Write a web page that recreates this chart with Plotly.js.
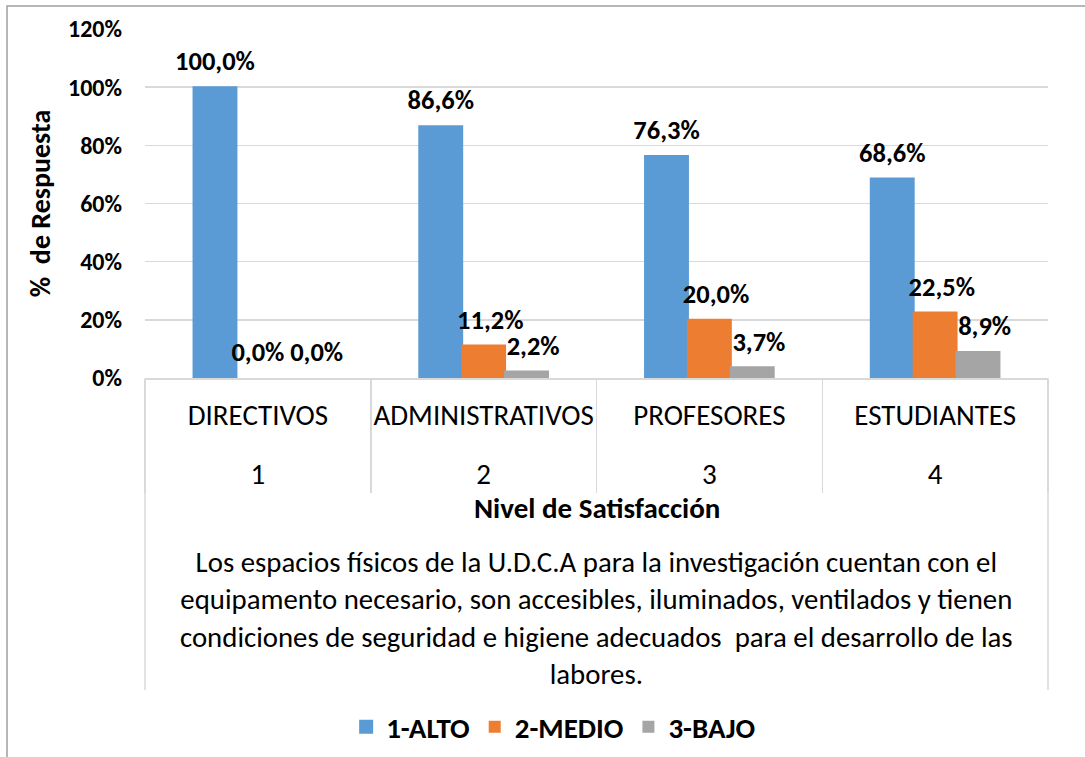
<!DOCTYPE html>
<html>
<head>
<meta charset="utf-8">
<script src="https://cdn.plot.ly/plotly-3.0.1.min.js"></script>
<style>html,body{margin:0;padding:0;background:#fff}#chart{width:1085px;height:757px}</style>
</head>
<body>
<div id="chart"></div>
<script>
var categories = ["DIRECTIVOS", "ADMINISTRATIVOS", "PROFESORES", "ESTUDIANTES"];
var levels = ["1", "2", "3", "4"];
var seriesNames = ["1-ALTO", "2-MEDIO", "3-BAJO"];
var alto = [100.0, 86.6, 76.3, 68.6];
var medio = [0.0, 11.2, 20.0, 22.5];
var bajo = [0.0, 2.2, 3.7, 8.9];
var yTicks = [0, 20, 40, 60, 80, 100, 120];
var xTitle = "Nivel de Satisfacción";
var yTitle = "%  de Respuesta";
var description = ["Los espacios físicos de la U.D.C.A para la investigación cuentan con el",
  "equipamento necesario, son accesibles, iluminados, ventilados y tienen",
  "condiciones de seguridad e higiene adecuados  para el desarrollo de las",
  "labores."];

var FONT = "Carlito, Calibri, Lato, sans-serif";
var colors = ["#5B9BD5", "#ED7D31", "#A5A5A5"];
var vals = [alto, medio, bajo];
// category labels shown with an extra small empty line so the level row sits lower
var catLabels = categories.map(function (c) { return c + "<br><span style='font-size:8px'> </span>"; });

// label template: big visible line + tiny empty line (adds a little gap above the bar)
function tpl(prefix) {
  return "<span style='font-size:26.5px'>" + prefix + "%{y:.1f}%</span><br> ";
}

var traces = vals.map(function (v, i) {
  var templates = v.map(function (val, j) {
    if (i === 0) return tpl("");
    if (i === 1 && val === 0) return tpl("");
    if (i === 2 && val === 0 && medio[j] === 0) return tpl("\u2003\u2009");
    return tpl("\u2002");
  });
  return {
    type: "bar",
    name: seriesNames[i],
    x: [levels, catLabels],
    y: v,
    marker: {color: colors[i], line: {color: colors[i], width: v.map(function (val) { return val > 0 ? 2 : 0; })}},
    texttemplate: templates,
    textposition: "outside",
    constraintext: "none",
    textfont: {family: FONT, size: 9, color: "#000", weight: "bold"},
    cliponaxis: false,
    hoverinfo: "skip"
  };
});

var layout = {
  width: 1085, height: 757,
  margin: {l: 145, r: 37, t: 29, b: 379, autoexpand: false},
  paper_bgcolor: "#fff", plot_bgcolor: "#fff",
  separators: ",.",
  barmode: "group",
  bargap: 0.43,
  bargroupgap: 0,
  font: {family: FONT, color: "#000"},
  showlegend: true,
  legend: {orientation: "h", x: 0.452, xanchor: "center", y: -1.0, yanchor: "middle",
    font: {family: FONT, size: 29, weight: "bold"}, traceorder: "normal"},
  xaxis: {
    type: "multicategory",
    showline: true, linecolor: "#D9D9D9", linewidth: 1.5,
    showdividers: true, dividercolor: "#D9D9D9", dividerwidth: 1.5,
    tickfont: {family: FONT, size: 29, color: "#000"},
    tickangle: 0, ticks: "",
    ticklabelstandoff: 11,
    automargin: false
  },
  yaxis: {
    range: [0, 120], tickvals: yTicks, ticktext: yTicks.map(function (t) { return t + "%"; }),
    showgrid: true, gridcolor: "#D9D9D9", gridwidth: 1.5,
    zeroline: false, showline: false, ticks: "",
    ticklabelstandoff: 22,
    tickfont: {family: FONT, size: 24, weight: "bold"},
    title: {text: yTitle, font: {family: FONT, size: 28, weight: "bold"}, standoff: 9},
    automargin: false
  },
  shapes: [
    {type: "rect", xref: "paper", yref: "paper", x0: -0.1528, x1: 1.0465, y0: -1.123, y1: 1.066,
      line: {color: "#A0A0A0", width: 1.5}, fillcolor: "rgba(0,0,0,0)", layer: "below"},
    {type: "line", xref: "paper", yref: "paper", x0: 0, x1: 0, y0: 0, y1: -0.894,
      line: {color: "#D9D9D9", width: 1.5}},
    {type: "line", xref: "paper", yref: "paper", x0: 1, x1: 1, y0: 0, y1: -0.894,
      line: {color: "#D9D9D9", width: 1.5}}
  ],
  annotations: [
    {xref: "paper", yref: "paper", x: 0.5, y: -0.372, xanchor: "center", yanchor: "middle",
      text: xTitle, showarrow: false, font: {family: FONT, size: 29, weight: "bold"}},
    {xref: "paper", yref: "paper", x: 0.5, y: -0.688, xanchor: "center", yanchor: "middle",
      text: description.join("<br>"), showarrow: false, font: {family: FONT, size: 28.8}}
  ]
};

Plotly.newPlot("chart", traces, layout, {displayModeBar: false, staticPlot: true});
</script>
</body>
</html>
